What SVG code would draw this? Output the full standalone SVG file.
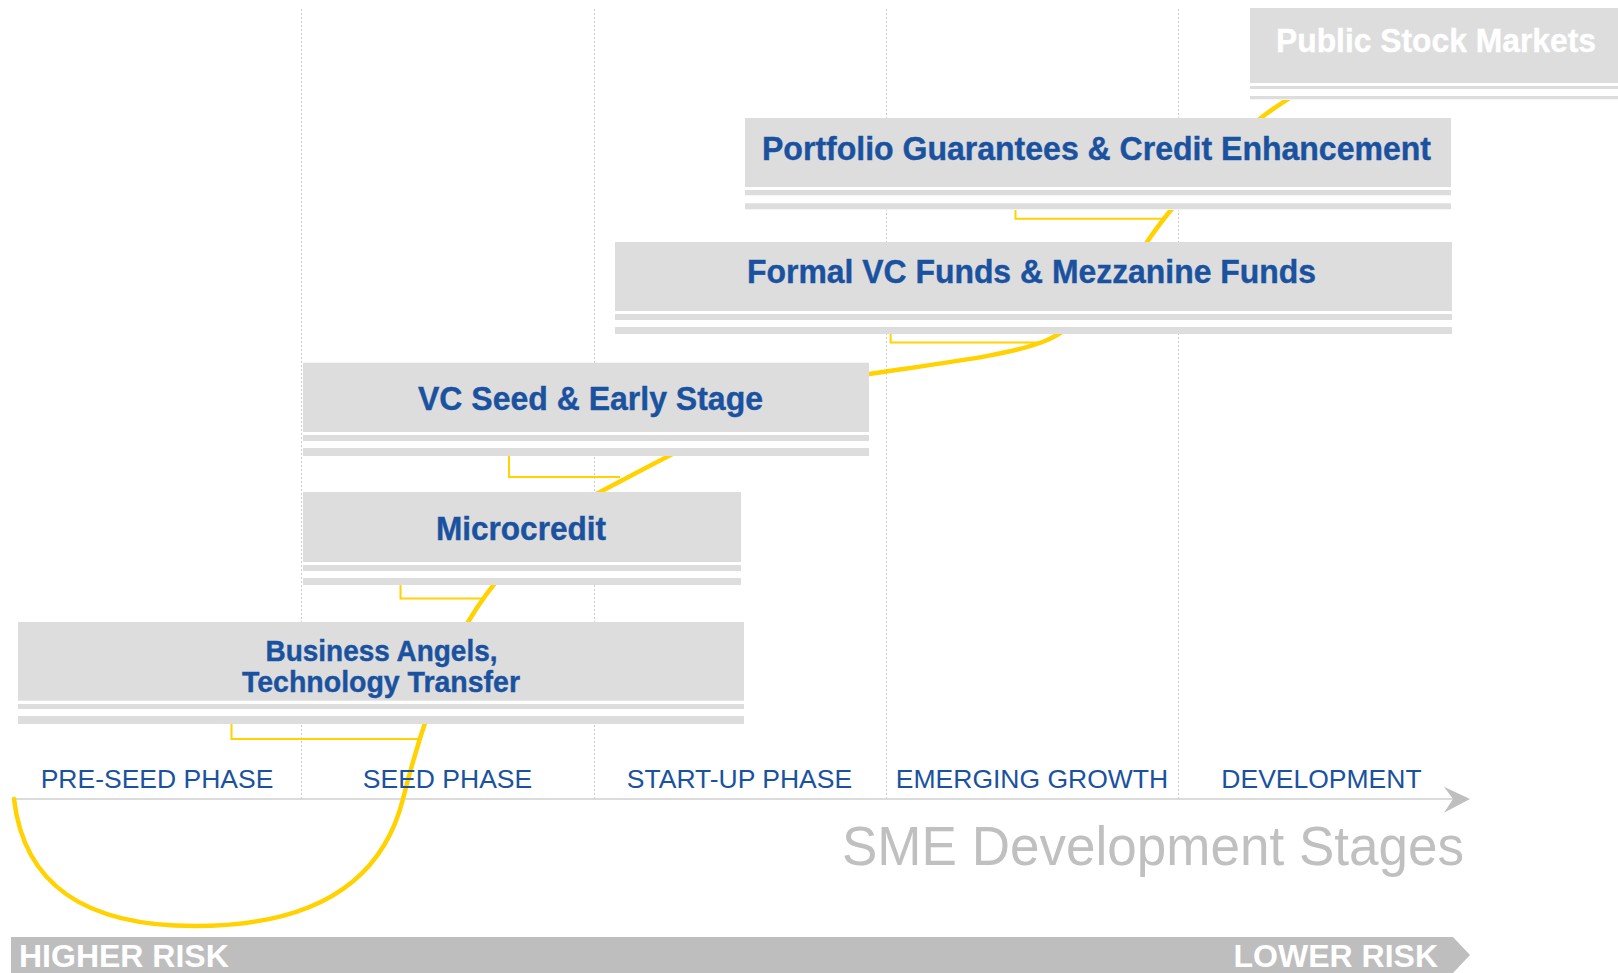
<svg xmlns="http://www.w3.org/2000/svg" width="1618" height="973" viewBox="0 0 1618 973">
<style>
.sep{stroke:#cccccc;stroke-width:1;stroke-dasharray:2 2;fill:none}
.box{fill:#dddddd}
.bg{fill:#ffffff}
.lbl{font-family:"Liberation Sans",Arial,sans-serif;font-weight:bold;font-size:33px;fill:#1a52a0;stroke:#1a52a0;stroke-width:0.4;text-anchor:middle}
.phase{font-family:"Liberation Sans",Arial,sans-serif;font-size:26.5px;fill:#1a52a0;text-anchor:middle}
.curve{fill:none;stroke:#ffd200;stroke-width:4.5;stroke-linecap:round}
.elbow{fill:none;stroke:#ffd200;stroke-width:2}
.risk{font-family:"Liberation Sans",Arial,sans-serif;font-weight:bold;font-size:32px;fill:#ffffff}
</style>
<rect width="1618" height="973" fill="#ffffff"/>
<g id="grid">
<line class="sep" x1="301.5" y1="9" x2="301.5" y2="799"/>
<line class="sep" x1="594.5" y1="9" x2="594.5" y2="799"/>
<line class="sep" x1="886.5" y1="9" x2="886.5" y2="799"/>
<line class="sep" x1="1178.5" y1="9" x2="1178.5" y2="799"/>
<line x1="12" y1="799" x2="1455" y2="799" stroke="#cfcfcf" stroke-width="1.5"/>
<path d="M1444,786.7 L1470,799 L1444,812.7 L1453,799 Z" fill="#bfbfbf"/>
</g>
<g id="connectors">
<path class="curve" d="M14,799 C24,885 85,926 195,926 C330,926 385,870 403,799 C414,755 438,672 468,622 C500,568 555,515 600,492 C660,461 790,388 869,374 C950,362 1010,355 1045,341 C1080,327 1125,275 1147,242 C1170,208 1220,150 1262,117 C1280,103 1300,92 1330,72"/>
<polyline class="elbow" points="231.5,722 231.5,739 419,739"/>
<polyline class="elbow" points="400.5,583 400.5,598.5 482,598.5"/>
<polyline class="elbow" points="509,454 509,477 620,477"/>
<polyline class="elbow" points="890.6,332 890.6,342.6 1040,342.6"/>
<polyline class="elbow" points="1015.5,208 1015.5,218.8 1166,218.8"/>
</g>
<g id="public-stock-markets">
<rect class="bg" x="1250" y="8" width="368" height="92"/>
<rect class="box" x="1250" y="8" width="368" height="75"/>
<rect class="box" x="1250" y="86" width="368" height="3"/>
<rect class="box" x="1250" y="96" width="368" height="3.3"/>
<text class="lbl" x="1436" y="52" textLength="320" lengthAdjust="spacingAndGlyphs" style="fill:#ffffff;stroke:#ffffff;font-size:34px">Public Stock Markets</text>
</g>
<g id="portfolio-guarantees">
<rect class="bg" x="745" y="118" width="706" height="92"/>
<rect class="box" x="745" y="118" width="706" height="69"/>
<rect class="box" x="745" y="190" width="706" height="5.3"/>
<rect class="box" x="745" y="203.3" width="706" height="6"/>
<text class="lbl" x="1096.5" y="160" textLength="669" lengthAdjust="spacingAndGlyphs">Portfolio Guarantees &amp; Credit Enhancement</text>
</g>
<g id="formal-vc-funds">
<rect class="bg" x="615" y="242" width="837" height="92"/>
<rect class="box" x="615" y="242" width="837" height="69"/>
<rect class="box" x="615" y="314" width="837" height="6"/>
<rect class="box" x="615" y="327" width="837" height="7"/>
<text class="lbl" x="1031.5" y="283" textLength="569" lengthAdjust="spacingAndGlyphs">Formal VC Funds &amp; Mezzanine Funds</text>
</g>
<g id="vc-seed-early-stage">
<rect class="bg" x="303" y="362.7" width="566" height="93.3"/>
<rect class="box" x="303" y="362.7" width="566" height="69.3"/>
<rect class="box" x="303" y="435" width="566" height="6"/>
<rect class="box" x="303" y="448" width="566" height="8"/>
<text class="lbl" x="590.5" y="410" textLength="345" lengthAdjust="spacingAndGlyphs">VC Seed &amp; Early Stage</text>
</g>
<g id="microcredit">
<rect class="bg" x="303" y="492" width="438" height="93"/>
<rect class="box" x="303" y="492" width="438" height="70"/>
<rect class="box" x="303" y="565" width="438" height="6"/>
<rect class="box" x="303" y="578" width="438" height="7"/>
<text class="lbl" x="521" y="540" textLength="170" lengthAdjust="spacingAndGlyphs">Microcredit</text>
</g>
<g id="business-angels">
<rect class="bg" x="18" y="622" width="726" height="102"/>
<rect class="box" x="18" y="622" width="726" height="78.7"/>
<rect class="box" x="18" y="704" width="726" height="5"/>
<rect class="box" x="18" y="716" width="726" height="8"/>
<text class="lbl" x="381.5" y="660.5" textLength="232" lengthAdjust="spacingAndGlyphs" style="font-size:29px">Business Angels,</text>
<text class="lbl" x="381" y="691.5" textLength="278" lengthAdjust="spacingAndGlyphs" style="font-size:29px">Technology Transfer</text>
</g>
<g id="phases">
<text class="phase" x="157" y="788">PRE-SEED PHASE</text>
<text class="phase" x="447.5" y="788">SEED PHASE</text>
<text class="phase" x="739.5" y="788">START-UP PHASE</text>
<text class="phase" x="1032" y="788">EMERGING GROWTH</text>
<text class="phase" x="1321.5" y="788">DEVELOPMENT</text>
</g>
<text x="1464" y="865" font-family="'Liberation Sans',Arial,sans-serif" font-size="55" fill="#c0c0c0" text-anchor="end" textLength="622" lengthAdjust="spacingAndGlyphs">SME Development Stages</text>
<g id="risk-bar">
<polygon points="11,937 1453,937 1470,955 1453,973 11,973" fill="#bebebe"/>
<text class="risk" x="19" y="967">HIGHER RISK</text>
<text class="risk" x="1438" y="967" text-anchor="end">LOWER RISK</text>
</g>
</svg>
